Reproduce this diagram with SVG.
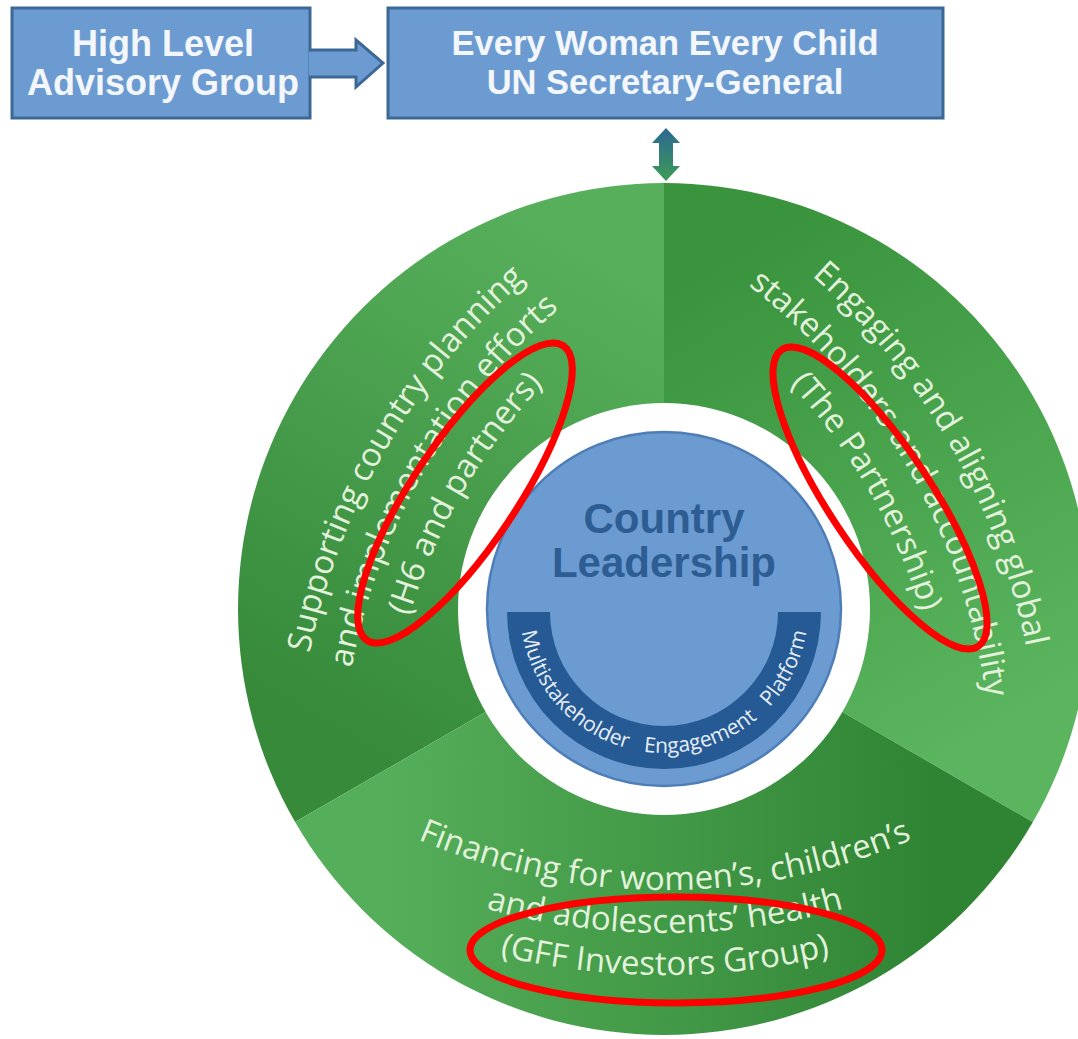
<svg xmlns="http://www.w3.org/2000/svg" width="1078" height="1039" viewBox="0 0 1078 1039">
<defs>
<style>
.box{fill:#6b9bd0;stroke:#3c6896;stroke-width:3}
.boxtxt{font-family:"Liberation Sans",Arial,sans-serif;font-weight:bold;font-size:34.5px;fill:#f3f7fc;text-anchor:middle}
.big{font-size:36px}
.segtxt{font-family:"Open Sans","Noto Sans",sans-serif;font-size:33px;fill:#e3f2dc}
.bandtxt{font-family:"Open Sans","Noto Sans",sans-serif;font-size:21px;fill:#e9eff8;word-spacing:11px}
.ctr{font-family:"Liberation Sans",Arial,sans-serif;font-weight:bold;font-size:42px;fill:#2d5d93;text-anchor:middle}
.hl{fill:none;stroke:#ff0000;stroke-width:7}
</style>
<linearGradient id="gTL" gradientUnits="userSpaceOnUse" x1="390" y1="767" x2="664" y2="293">
<stop offset="0" stop-color="#368a3a"/><stop offset="1" stop-color="#57af5b"/>
</linearGradient>
<linearGradient id="gR" gradientUnits="userSpaceOnUse" x1="664" y1="293" x2="938" y2="767">
<stop offset="0" stop-color="#3a933d"/><stop offset="1" stop-color="#5bb55f"/>
</linearGradient>
<linearGradient id="gB" gradientUnits="userSpaceOnUse" x1="938" y1="767" x2="390" y2="767">
<stop offset="0" stop-color="#2f8434"/><stop offset="1" stop-color="#55ae59"/>
</linearGradient>
<linearGradient id="gDA" x1="0" y1="0" x2="0" y2="1">
<stop offset="0" stop-color="#2d6794"/><stop offset="1" stop-color="#3c9b55"/>
</linearGradient>
<path id="pTL1" d="M386.6,1117.5 A669,669 0 0 1 966,114"/>
<path id="pTL2" d="M424.7,1095.5 A625,625 0 0 1 966,158"/>
<path id="pTL3" d="M462.8,1073.5 A581,581 0 0 1 966,202"/>
<path id="pR1" d="M362,105 A678,678 0 0 1 949.2,1122"/>
<path id="pR2" d="M362,153 A630,630 0 0 1 907.6,1098"/>
<path id="pR3" d="M362,198 A585,585 0 0 1 868.6,1075.5"/>
<path id="pB1" d="M119.4,575 A630,630 0 0 0 1210.6,575"/>
<path id="pB2" d="M82.2,596.5 A673,673 0 0 0 1247.8,596.5"/>
<path id="pB3" d="M45.8,617.5 A715,715 0 0 0 1284.2,617.5"/>
<path id="pBand" d="M520,609 A144,144 0 0 0 808,609"/>
</defs>
<rect width="1078" height="1039" fill="#ffffff"/>

<g id="node-hlag">
<rect class="box" x="12" y="8" width="298" height="110"/>
<text class="boxtxt big" x="163" y="56">High Level</text>
<text class="boxtxt big" x="163" y="95">Advisory Group</text>
</g>

<g id="node-ewec">
<rect class="box" x="388" y="8" width="555" height="110"/>
<text class="boxtxt" x="665" y="55">Every Woman Every Child</text>
<text class="boxtxt" x="665" y="94">UN Secretary-General</text>
</g>

<g id="connectors">
<path d="M309,50 L356,50 L356,40 L383,63 L356,87 L356,77 L309,77" fill="#6b9bd0" stroke="#3c6896" stroke-width="3" stroke-linejoin="miter"/>
<polygon points="666,128 680,143 673,143 673,166 680,166 666,181 652,166 659,166 659,143 652,143" fill="url(#gDA)"/>
</g>

<g id="node-ring">
<g id="seg-country-support">
<path d="M664,609 L295.1,822 A426,426 0 0 1 664,183 Z" fill="url(#gTL)"/>
</g>
<g id="seg-global-engagement">
<path d="M664,609 L664,183 A426,426 0 0 1 1032.9,822 Z" fill="url(#gR)"/>
</g>
<g id="seg-financing">
<path d="M664,609 L1032.9,822 A426,426 0 0 1 295.1,822 Z" fill="url(#gB)"/>
</g>
<circle cx="664" cy="609" r="206" fill="#ffffff"/>
<g id="seg-country-support-text" class="segtxt">
<text><textPath href="#pTL1" startOffset="50%" text-anchor="middle">Supporting country planning</textPath></text>
<text><textPath href="#pTL2" startOffset="50%" text-anchor="middle">and implementation efforts</textPath></text>
<text><textPath href="#pTL3" startOffset="50%" text-anchor="middle">(H6 and partners)</textPath></text>
</g>
<g id="seg-global-engagement-text" class="segtxt">
<text><textPath href="#pR1" startOffset="50%" text-anchor="middle">Engaging and aligning global</textPath></text>
<text><textPath href="#pR2" startOffset="50%" text-anchor="middle">stakeholders and accountability</textPath></text>
<text><textPath href="#pR3" startOffset="50%" text-anchor="middle">(The Partnership)</textPath></text>
</g>
<g id="seg-financing-text" class="segtxt">
<text><textPath href="#pB1" startOffset="50%" text-anchor="middle">Financing for women’s, children’s</textPath></text>
<text><textPath href="#pB2" startOffset="50%" text-anchor="middle">and adolescents’ health</textPath></text>
<text><textPath href="#pB3" startOffset="50%" text-anchor="middle">(GFF Investors Group)</textPath></text>
</g>
</g>

<g id="node-country-leadership">
<circle cx="664" cy="609" r="177" fill="#6b9bd0" stroke="#4e7eb8" stroke-width="2.5"/>
<path d="M507,612 A157,157 0 0 0 821,612 L778,612 A114,114 0 0 1 550,612 Z" fill="#255a95"/>
<text class="ctr" x="664" y="533">Country</text>
<text class="ctr" x="664" y="577">Leadership</text>
<text class="bandtxt"><textPath href="#pBand" startOffset="50%" text-anchor="middle">Multistakeholder Engagement Platform</textPath></text>
</g>

<g id="highlights">
<ellipse class="hl" cx="465" cy="493" rx="177" ry="52" transform="rotate(-56.3 465 493)"/>
<ellipse class="hl" cx="880" cy="498" rx="178" ry="51" transform="rotate(56.5 880 498)"/>
<ellipse class="hl" cx="676" cy="950" rx="206" ry="53"/>
</g>
</svg>
